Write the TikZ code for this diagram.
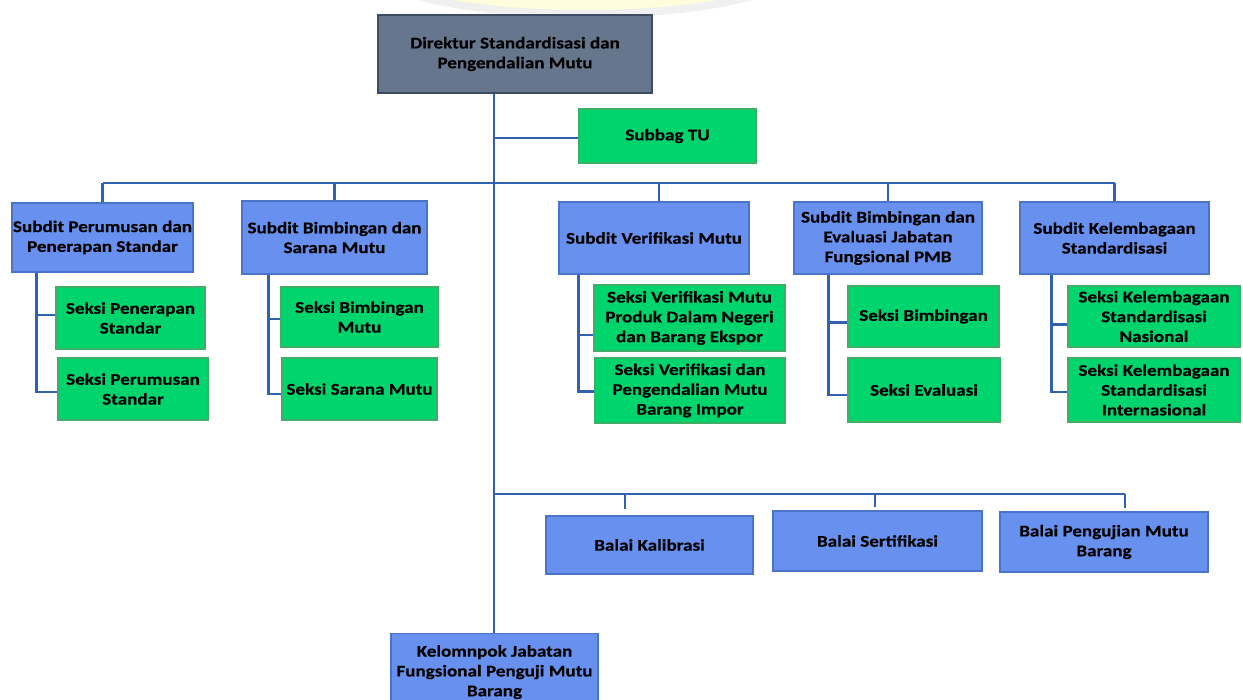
\documentclass[tikz,border=0pt]{standalone}
\usepackage{fontspec}
\setmainfont{Carlito}[FakeStretch=1.17, BoldFeatures={FakeBold=0.5}]
\begin{document}
\begin{tikzpicture}[x=1pt,y=-1pt,
  box/.style={draw, line width=1.2pt, rectangle, inner sep=0pt, align=center,
    font=\bfseries\fontsize{16.3}{19.8}\selectfont, text=black},
  bluebox/.style={box, fill=bluefill, draw=blueedge},
  greenbox/.style={box, fill=greenfill, draw=greenedge},
  topbox/.style={box, fill=topfill, draw=topedge},
  link/.style={draw=linecol, line width=2.4pt},
  thin link/.style={draw=linecol, line width=2pt}]
\definecolor{bluefill}{HTML}{6890EE}
\definecolor{blueedge}{HTML}{4A74C8}
\definecolor{greenfill}{HTML}{00D46C}
\definecolor{greenedge}{HTML}{3FAE66}
\definecolor{topfill}{HTML}{66768D}
\definecolor{topedge}{HTML}{3E4C63}
\definecolor{linecol}{HTML}{2F63B2}
\useasboundingbox (0,0) rectangle (1243,700);
\clip (0,0) rectangle (1243,700);
% faint watermark glow at the top
\fill[gray!12] (585,-28) ellipse [x radius=210, y radius=46];
\fill[yellow!14] (585,-30) ellipse [x radius=198, y radius=40];

% boxes
\node[topbox, minimum width=274, minimum height=78] (dir) at (515,54) {Direktur Standardisasi dan\\Pengendalian Mutu};
\node[greenbox, minimum width=177, minimum height=54] (tu) at (667.5,136) {Subbag TU};

\node[bluebox, minimum width=181, minimum height=69] (s1) at (102.5,237.5) {Subdit Perumusan dan\\Penerapan Standar};
\node[bluebox, minimum width=185, minimum height=73] (s2) at (334.5,237.5) {Subdit Bimbingan dan\\Sarana Mutu};
\node[bluebox, minimum width=190, minimum height=72] (s3) at (654,238) {Subdit Verifikasi Mutu};
\node[bluebox, minimum width=188, minimum height=72] (s4) at (888,238) {Subdit Bimbingan dan\\Evaluasi Jabatan\\Fungsional PMB};
\node[bluebox, minimum width=189, minimum height=72] (s5) at (1114.5,238) {Subdit Kelembagaan\\Standardisasi};

\node[greenbox, minimum width=149, minimum height=62] (a1) at (130.5,318) {Seksi Penerapan\\Standar};
\node[greenbox, minimum width=150, minimum height=62] (a2) at (133,389) {Seksi Perumusan\\Standar};
\node[greenbox, minimum width=157, minimum height=60] (b1) at (359.5,317) {Seksi Bimbingan\\Mutu};
\node[greenbox, minimum width=155, minimum height=62] (b2) at (359.5,389) {Seksi Sarana Mutu};
\node[greenbox, minimum width=191, minimum height=66] (c1) at (689.5,318) {Seksi Verifikasi Mutu\\Produk Dalam Negeri\\dan Barang Ekspor};
\node[greenbox, minimum width=190, minimum height=65] (c2) at (690,390.5) {Seksi Verifikasi dan\\Pengendalian Mutu\\Barang Impor};
\node[greenbox, minimum width=151, minimum height=61] (d1) at (923.5,316.5) {Seksi Bimbingan};
\node[greenbox, minimum width=152, minimum height=64] (d2) at (924,390) {Seksi Evaluasi};
\node[greenbox, minimum width=172, minimum height=61] (e1) at (1154,316.5) {Seksi Kelembagaan\\Standardisasi\\Nasional};
\node[greenbox, minimum width=172, minimum height=64] (e2) at (1154,390) {Seksi Kelembagaan\\Standardisasi\\Internasional};

\node[bluebox, minimum width=207, minimum height=58] (k1) at (649.5,545) {Balai Kalibrasi};
\node[bluebox, minimum width=209, minimum height=60] (k2) at (877.5,541) {Balai Sertifikasi};
\node[bluebox, minimum width=208, minimum height=60] (k3) at (1104,542) {Balai Pengujian Mutu\\Barang};

\node[bluebox, minimum width=207, minimum height=77, anchor=north] (kel) at (494.5,633) {Kelomnpok Jabatan\\Fungsional Penguji Mutu\\Barang};

% junction coordinates
\coordinate (trunk) at (494,0);
\coordinate (bus) at (0,183);
\coordinate (lowbus) at (0,494);

% trunk
\draw[link] (dir.south -| trunk) -- (kel.north -| trunk);
\draw[thin link] ([yshift=-2pt]tu.west) -- ([yshift=-2pt]tu.west -| trunk);

% upper bus and drops
\draw[thin link] (s1.north |- bus) -- (s5.north |- bus);
\draw[link] (s1.north |- bus) -- (s1.north);
\draw[link] (s2.north |- bus) -- (s2.north);
\draw[link] ([xshift=5pt]s3.north |- bus) -- ([xshift=5pt]s3.north);
\draw[link] (s4.north |- bus) -- (s4.north);
\draw[link] (s5.north |- bus) -- (s5.north);

% section links
\draw[link] ([xshift=25pt]s1.south west) |- ([yshift=3pt]a1.west);
\draw[link] ([xshift=25pt]s1.south west) |- ([yshift=-3pt]a2.west);
\draw[link] ([xshift=27pt]s2.south west) |- ([yshift=-2pt]b1.west);
\draw[link] ([xshift=27pt]s2.south west) |- ([yshift=-5pt]b2.west);
\draw[link] ([xshift=20pt]s3.south west) |- ([yshift=-17pt]c1.west);
\draw[link] ([xshift=20pt]s3.south west) |- ([yshift=-1pt]c2.west);
\draw[link] ([xshift=35pt]s4.south west) |- ([yshift=-6pt]d1.west);
\draw[link] ([xshift=35pt]s4.south west) |- ([yshift=-5pt]d2.west);
\draw[link] ([xshift=32pt]s5.south west) |- ([yshift=-8pt]e1.west);
\draw[link] ([xshift=32pt]s5.south west) |- ([yshift=-2pt]e2.west);

% lower bus and drops
\draw[thin link] (lowbus -| trunk) -- ([xshift=21pt]k3.north |- lowbus);
\draw[link] ([xshift=-24.5pt]k1.north |- lowbus) -- ([xshift=-24.5pt,yshift=6pt]k1.north);
\draw[link] ([xshift=-2.5pt]k2.north |- lowbus) -- ([xshift=-2.5pt,yshift=3pt]k2.north);
\draw[link] ([xshift=21pt]k3.north |- lowbus) -- ([xshift=21pt,yshift=3pt]k3.north);
\end{tikzpicture}
\end{document}
